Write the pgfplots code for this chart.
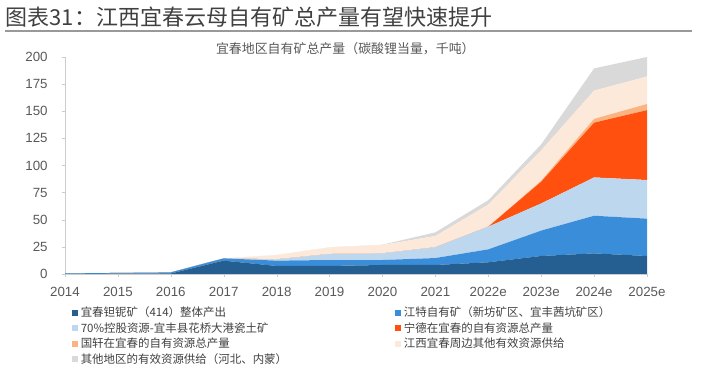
\documentclass[border=0pt]{standalone}
\usepackage{pgfplots}
\usepackage{pgfplotstable}
\pgfplotsset{compat=1.18}
\usepackage{fontspec}
\setmainfont{Liberation Sans}
\newfontfamily\cjk{Noto Sans CJK SC}
\definecolor{cA}{RGB}{37,94,145}
\definecolor{cB}{RGB}{58,142,217}
\definecolor{cC}{RGB}{189,215,238}
\definecolor{cD}{RGB}{255,80,15}
\definecolor{cE}{RGB}{250,180,130}
\definecolor{cF}{RGB}{253,233,217}
\definecolor{cG}{RGB}{217,217,217}
\definecolor{txt}{RGB}{64,64,64}
\definecolor{tick}{RGB}{89,89,89}
\pgfplotstableread{
x a b c d e f g
0 0 0.5 0 0 0 0 0
1 0.3 0.7 0 0 0 0 0
2 0.5 1.0 0 0 0 0 0
3 12.3 2.1 0 0 0 0 0
4 7.4 4.9 1.2 0 0 4 0
5 7.4 5.5 5.5 0 0 6.2 0
6 8.3 4.6 6.1 0 0 7.7 0.3
7 8.3 6.4 9.9 0 0 10.4 3.4
8 10.8 11.9 20.9 0 0 20.4 4
9 16.6 23.4 25 20 1 28 5.5
10 19 34.7 35.3 50.5 3.5 26 20.5
11 16.6 34.4 35.6 64.4 5.7 25.3 18
}\data
\begin{document}
\begin{tikzpicture}
\useasboundingbox (0,0) rectangle (525.75pt,-277.5pt);
\node[anchor=west, text=txt, inner sep=0pt] at (4pt,-13pt) {\fontsize{16.5}{18}\cjk 图表31：江西宜春云母自有矿总产量有望快速提升};
\draw[color=gray!80, line width=1.2pt] (3.75pt,-23.25pt) -- (519pt,-23.25pt);
\node[text=tick, inner sep=0pt] at (259pt,-36.75pt) {\fontsize{9.7}{11}\cjk 宜春地区自有矿总产量（碳酸锂当量，千吨）};
\begin{axis}[
  at={(48.75pt,-205.5pt)}, anchor=south west,
  scale only axis, width=436.5pt, height=162.75pt,
  xmin=0, xmax=11, ymin=0, ymax=200,
  stack plots=y,
  axis x line=bottom, axis y line=left,
  axis line style={draw=gray!40, -},
  tick style={draw=gray!40},
  major tick length=2.5pt,
  tick align=outside,
  xtick={0,...,11},
  xticklabels={2014,2015,2016,2017,2018,2019,2020,2021,2022e,2023e,2024e,2025e},
  ytick={0,25,...,200},
  /pgf/number format/assume math mode=true,
  tick label style={font=\fontsize{10}{12}\selectfont, text=tick},
  xticklabel style={yshift=-3.5pt},
  yticklabel style={xshift=-7pt},
  legend columns=2,
  legend style={at={(axis description cs:0.012,-0.143)}, anchor=north west, draw=none, fill=none,
    inner sep=0pt, row sep=0.2pt,
    font=\fontsize{8.6}{11.25}\selectfont\cjk, text=txt,
    nodes={inner xsep=2pt, inner ysep=1.3pt, text width=234pt, align=left}},
  legend cell align=left,
  legend image code/.code={\fill[#1] (0pt,-2.3pt) rectangle (4.4pt,2.3pt);},
]
\addplot[fill=cA, draw=none] table[x=x,y=a] {\data} \closedcycle;
\addlegendentry{宜春钽铌矿（414）整体产出}
\addplot[fill=cB, draw=none] table[x=x,y=b] {\data} \closedcycle;
\addlegendentry{江特自有矿（新坊矿区、宜丰茜坑矿区）}
\addplot[fill=cC, draw=none] table[x=x,y=c] {\data} \closedcycle;
\addlegendentry{70\%控股资源-宜丰县花桥大港瓷土矿}
\addplot[fill=cD, draw=none] table[x=x,y=d] {\data} \closedcycle;
\addlegendentry{宁德在宜春的自有资源总产量}
\addplot[fill=cE, draw=none] table[x=x,y=e] {\data} \closedcycle;
\addlegendentry{国轩在宜春的自有资源总产量}
\addplot[fill=cF, draw=none] table[x=x,y=f] {\data} \closedcycle;
\addlegendentry{江西宜春周边其他有效资源供给}
\addplot[fill=cG, draw=none] table[x=x,y=g] {\data} \closedcycle;
\addlegendentry{其他地区的有效资源供给（河北、内蒙）}
\end{axis}
\end{tikzpicture}
\end{document}
